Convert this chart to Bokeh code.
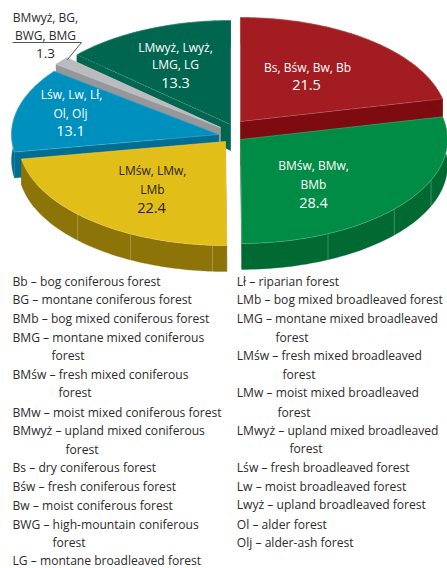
import numpy as np
from bokeh.plotting import figure
from bokeh.models import Range1d
from bokeh.core.properties import value
from bokeh.embed import file_html
from bokeh.resources import INLINE

# data
slices = ["Bs, Bśw, Bw, Bb", "BMśw, BMw, BMb", "LMśw, LMw, LMb",
          "Lśw, Lw, Lł, Ol, Olj", "BMwyż, BG, BWG, BMG", "LMwyż, Lwyż, LMG, LG"]
shares = [21.5, 28.4, 22.4, 13.1, 1.3, 13.3]
top_colors = ["#A31C22", "#008C44", "#E2BE18", "#0090BE", "#B9BBBE", "#006650"]
wall_colors = ["#7D0B0F", "#006A32", "#8D7408", "#006E92", "#95979A", "#006650"]
legend_left = [
    "Bb – bog coniferous forest", "BG – montane coniferous forest",
    "BMb – bog mixed coniferous forest", "BMG – montane  mixed coniferous",
    "forest", "BMśw – fresh mixed coniferous", "forest",
    "BMw – moist mixed coniferous forest", "BMwyż – upland mixed coniferous",
    "forest", "Bs – dry coniferous forest", "Bśw – fresh coniferous forest",
    "Bw – moist coniferous forest", "BWG – high-mountain coniferous",
    "forest", "LG – montane broadleaved forest"]
legend_right = [
    "Lł – riparian forest", "LMb – bog mixed broadleaved forest",
    "LMG – montane mixed broadleaved", "forest",
    "LMśw – fresh mixed broadleaved", "forest",
    "LMw – moist mixed broadleaved", "forest",
    "LMwyż – upland mixed broadleaved", "forest",
    "Lśw – fresh broadleaved forest", "Lw – moist broadleaved forest",
    "Lwyż – upland broadleaved forest", "Ol – alder forest",
    "Olj – alder-ash forest"]

# layout (page pixels)
apex = [(240, 121), (240, 139), (225, 141), (218, 134), (220, 127), (230, 124)]
RX, RY, DEPTH = 207, 104, 26
draw_order = [5, 4, 3, 0, 2, 1]
left_x = [12, 12, 12, 12, 51, 12, 58, 12, 12, 65, 12, 12, 12, 12, 52, 12]
left_y = [280.7, 299.3, 318.3, 336.7, 355.3, 374.3, 392.3, 411.7, 430.3, 449.3,
          467.3, 486.3, 505, 523.7, 542.3, 559.8]
right_x = [236.3, 236.3, 236.3, 275, 236.3, 282, 236.3, 277, 236.3, 289,
           236.3, 236.3, 236.3, 236.3, 236.3]
right_y = [280.7, 299.3, 318.3, 336.7, 355.3, 374.3, 392.3, 411.7, 430.3, 448.3,
           467.3, 486.3, 504.3, 523.7, 542.3]
rim_ticks = {1: [113, 132, 155], 2: [183.6, 207.3, 225.6]}

p = figure(width=447, height=568, output_backend="svg", toolbar_location=None,
           x_range=Range1d(0, 447), y_range=Range1d(568, 0),
           min_border=0, outline_line_color=None)
p.axis.visible = False
p.grid.visible = False

edges = np.concatenate([[0], np.cumsum(shares)]) * 3.6


def pt(c, deg):
    r = np.radians(deg)
    return c[0] + RX * np.sin(r), c[1] - RY * np.cos(r)


for i in draw_order:
    c = apex[i]
    a = np.linspace(edges[i], edges[i + 1], 80)
    ex, ey = pt(c, a)
    # walls: the sector extruded downward
    for d in (edges[i], edges[i + 1]):
        x0, y0 = pt(c, d)
        p.patch([c[0], x0, x0, c[0]], [c[1], y0, y0 + DEPTH, c[1] + DEPTH],
                fill_color=wall_colors[i], line_color=wall_colors[i], line_width=0.3)
    p.patch(list(ex) + list(ex[::-1]), list(ey) + list(ey[::-1] + DEPTH),
            fill_color=wall_colors[i], line_color=wall_colors[i], line_width=0.3)
    for t in rim_ticks.get(i, []):
        x0, y0 = pt(c, t)
        p.line([x0, x0], [y0, y0 + DEPTH], line_color="#FFFFFF", line_alpha=0.35, line_width=0.7)
    # top face
    p.patch([c[0]] + list(ex), [c[1]] + list(ey), fill_color=top_colors[i],
            line_color=top_colors[i], line_width=0.3)
    p.line(list(ex), list(ey), line_color="#FFFFFF", line_alpha=0.35, line_width=0.6)
    x0, y0 = pt(c, edges[i])
    x1, y1 = pt(c, edges[i + 1])
    if i == 5:
        p.line([x0, c[0]], [y0, c[1]], line_color="#FFFFFF", line_alpha=0.4,
               line_width=0.6, line_dash="2 1")
    else:
        p.line([x0, c[0], x1], [y0, c[1], y1], line_color="#FFFFFF", line_alpha=0.3, line_width=0.6)

FONT = "Open Sans"


def label(x, y, txt, size, color="#FFFFFF"):
    p.text([x], [y], text=[txt], text_font=value(FONT), text_font_size=size,
           text_color=color, text_align="center", text_baseline="middle")


label(307, 67, "Bs, Bśw, Bw, Bb", "12px")
label(306, 84, str(shares[0]), "14.5px")
label(313, 165, "BMśw, BMw,", "12px")
label(313, 184, "BMb", "12px")
label(313, 202, str(shares[1]), "14.5px")
label(152, 170, "LMśw, LMw,", "12px", "#2A2412")
label(152, 189, "LMb", "12px", "#2A2412")
label(151, 207, str(shares[2]), "14.5px", "#2A2412")
label(71, 94, "Lśw, Lw, Lł,", "12px")
label(70, 113, "Ol, Olj", "12px")
label(70, 130, str(shares[3]), "14.5px")
label(175, 47, "LMwyż, Lwyż,", "12px")
label(175, 64, "LMG, LG", "12px")
label(175, 82, str(shares[5]), "14.5px")
label(45, 17, "BMwyż, BG,", "12px", "#2B2B2B")
label(45, 35, "BWG, BMG", "12px", "#2B2B2B")
label(45, 53, str(shares[4]), "13.5px", "#2B2B2B")
p.line([12, 81, 67], [42, 42, 59], line_color="#2B2B2B", line_width=0.8)

p.text(left_x, left_y, text=legend_left, text_font=value(FONT), text_font_size="12.1px",
       text_color="#2B2B2B", text_align="left", text_baseline="middle")
p.text(right_x, right_y, text=legend_right, text_font=value(FONT), text_font_size="12.1px",
       text_color="#2B2B2B", text_align="left", text_baseline="middle")

open("out.html", "w").write(file_html(p, INLINE))
